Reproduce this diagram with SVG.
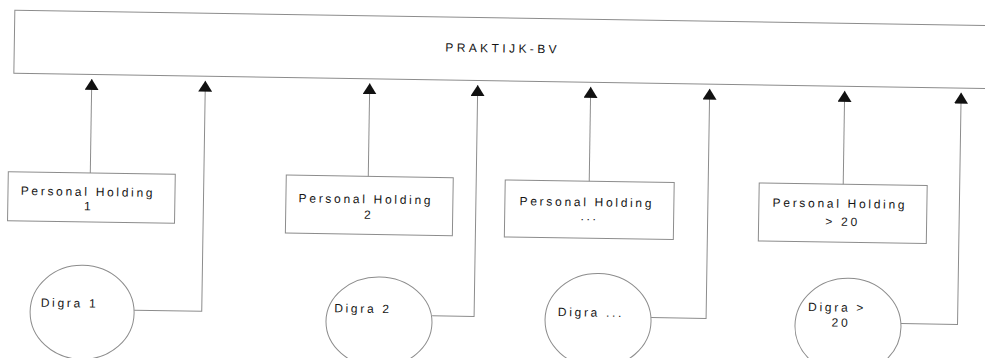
<svg xmlns="http://www.w3.org/2000/svg" width="985" height="358" viewBox="0 0 985 358">
  <style>
    .shape { fill: none; stroke: #8c8c8c; stroke-width: 1; }
    .wire { fill: none; stroke: #8c8c8c; stroke-width: 1; }
    .lbl { font-family: "Liberation Sans", Arial, sans-serif; font-size: 12px; fill: #151515; letter-spacing: 2.7px; }
    .title { font-family: "Liberation Sans", Arial, sans-serif; font-size: 12px; fill: #151515; letter-spacing: 3.4px; }
    .mid { text-anchor: middle; }
  </style>
  <defs>
    <marker id="tri" viewBox="0 0 11 14" refX="11" refY="7" markerWidth="11" markerHeight="14" markerUnits="userSpaceOnUse" orient="auto">
      <path d="M0,0 L11,7 L0,14 z" fill="#111"/>
    </marker>
  </defs>
  <rect width="985" height="358" fill="#ffffff"/>
  <!-- whole sheet sits at a slight tilt -->
  <g transform="rotate(0.9)">
    <g id="praktijk-bv">
      <rect class="shape" x="15" y="10" width="1000" height="63"/>
      <text class="title" x="446" y="44.6">PRAKTIJK-BV</text>
    </g>

    <g id="holding-1">
      <rect class="shape" x="11" y="171.5" width="167" height="49"/>
      <text class="lbl mid" x="91" y="194.5">Personal Holding</text>
      <text class="lbl mid" x="92" y="209">1</text>
    </g>
    <g id="holding-2">
      <rect class="shape" x="289" y="170.5" width="167" height="58"/>
      <text class="lbl mid" x="369" y="197.5">Personal Holding</text>
      <text class="lbl mid" x="372" y="213">2</text>
    </g>
    <g id="holding-n">
      <rect class="shape" x="508" y="172" width="169" height="57"/>
      <text class="lbl mid" x="590" y="197">Personal Holding</text>
      <text class="lbl mid" x="593" y="211">...</text>
    </g>
    <g id="holding-20">
      <rect class="shape" x="762" y="171" width="168" height="58"/>
      <text class="lbl mid" x="843" y="194.5">Personal Holding</text>
      <text class="lbl mid" x="846" y="212.5">&gt; 20</text>
    </g>

    <g id="digra-1">
      <ellipse class="shape" cx="87" cy="311" rx="52" ry="47"/>
      <text class="lbl" x="45.5" y="306">Digra 1</text>
    </g>
    <g id="digra-2">
      <ellipse class="shape" cx="384" cy="316" rx="53" ry="45"/>
      <text class="lbl" x="339" y="307">Digra 2</text>
    </g>
    <g id="digra-n">
      <ellipse class="shape" cx="603" cy="311" rx="53" ry="47"/>
      <text class="lbl" x="562.7" y="307.2">Digra ...</text>
    </g>
    <g id="digra-20">
      <ellipse class="shape" cx="853" cy="313" rx="53" ry="48"/>
      <text class="lbl" x="812.9" y="298.3">Digra &gt;</text>
      <text class="lbl mid" x="846" y="313.5">20</text>
    </g>

    <g id="connectors">
      <path class="wire" d="M93 171.5 V77.5" marker-end="url(#tri)"/>
      <path class="wire" d="M139 308 H206.6 V77.5" marker-end="url(#tri)"/>
      <path class="wire" d="M371 170.5 V77.5" marker-end="url(#tri)"/>
      <path class="wire" d="M437 309 H479 V77.5" marker-end="url(#tri)"/>
      <path class="wire" d="M592 172 V77.5" marker-end="url(#tri)"/>
      <path class="wire" d="M656 307.3 H711 V77.5" marker-end="url(#tri)"/>
      <path class="wire" d="M846 171 V77.5" marker-end="url(#tri)"/>
      <path class="wire" d="M906 309.4 H962.5 V77.5" marker-end="url(#tri)"/>
    </g>
  </g>
</svg>
